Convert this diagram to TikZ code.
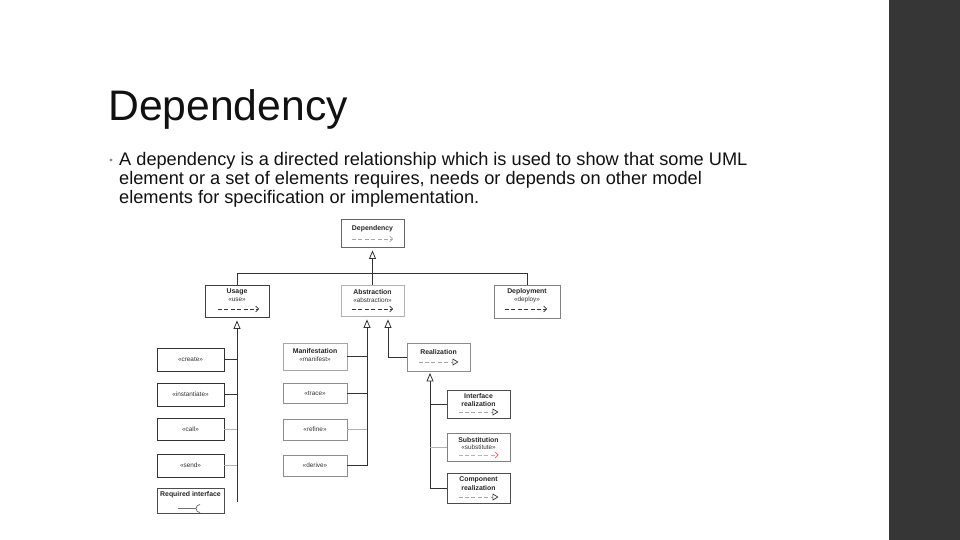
\documentclass[tikz,border=0pt]{standalone}
\usepackage{fontspec}
\setmainfont{Liberation Sans}
\usetikzlibrary{arrows.meta,calc}
\definecolor{barclr}{HTML}{363636}
\definecolor{txt}{HTML}{111111}
\begin{document}
\begin{tikzpicture}[x=1pt,y=-1pt,
  umlbox/.style={draw=#1, fill=white, line width=0.8pt, rectangle, inner sep=0pt},
  umlbox/.default={black!70},
  nm/.style={font=\fontsize{6.9}{7.5}\selectfont\bfseries, text=black!85, inner sep=0pt},
  st/.style={font=\fontsize{6.4}{7}\selectfont, text=black!80, inner sep=0pt},
  conn/.style={draw=black!80, line width=0.8pt},
  lconn/.style={draw=black!30, line width=0.8pt},
  gen/.style={conn, -{Triangle[open,length=8.5pt,width=7pt]}},
  darr/.style={draw=black!80, line width=0.6pt, dash pattern=on 4pt off 2.4pt, -{Straight Barb[length=3pt,width=6pt,line width=0.6pt]}},
  rarr/.style={draw=black!35, line width=0.6pt, dash pattern=on 4pt off 2.4pt, -{Triangle[open,length=6pt,width=7pt,line width=0.7pt,color=black!80]}},
  bodyline/.style={anchor=base west, inner sep=0pt, text=txt, font=\fontsize{18.2}{19.5}\selectfont}
]
\useasboundingbox (0,0) rectangle (960,540);
\fill[white] (0,0) rectangle (960,540);
\fill[barclr] (889,0) rectangle (960,540);

% title and text
\node[anchor=base west, inner sep=0pt, text=txt, font=\fontsize{42.7}{48}\selectfont] (title) at (108,121) {Dependency};
\node[circle, fill=black!45, inner sep=0pt, minimum size=3.4pt] (bul) at (111,160) {};
\node[bodyline] (body1) at (119,165) {A dependency is a directed relationship which is used to show that some UML};
\node[bodyline] (body2) at (119,184.5) {element or a set of elements requires, needs or depends on other model};
\node[bodyline] (body3) at (119,204) {elements for specification or implementation.};

% boxes
\node[umlbox=black!60, minimum width=63pt, minimum height=28pt] (dep) at (372.5,233) {};
\node[umlbox=black!75, minimum width=64pt, minimum height=32pt] (usage) at (237,301) {};
\node[umlbox=black!30, minimum width=63pt, minimum height=31pt] (abs) at (372.5,300.5) {};
\node[umlbox=black!50, minimum width=66pt, minimum height=33pt] (depl) at (527,301.5) {};

\node[umlbox=black!80, minimum width=67pt, minimum height=23pt] (create) at (190.5,359.5) {};
\node[umlbox=black!80, minimum width=67pt, minimum height=23pt] (inst) at (190.5,394.5) {};
\node[umlbox=black!80, minimum width=67pt, minimum height=22pt] (call) at (190.5,429) {};
\node[umlbox=black!80, minimum width=67pt, minimum height=23pt] (send) at (190.5,465.5) {};
\node[umlbox=black!70, minimum width=67pt, minimum height=25pt] (reqi) at (190.5,500.5) {};

\node[umlbox=black!35, minimum width=64pt, minimum height=27pt] (manif) at (315,356.5) {};
\node[umlbox=black!45, minimum width=64pt, minimum height=20pt] (trace) at (315,393) {};
\node[umlbox=black!45, minimum width=64pt, minimum height=21pt] (refine) at (315,429.5) {};
\node[umlbox=black!45, minimum width=64pt, minimum height=21pt] (derive) at (315,465.5) {};

\node[umlbox=black!45, minimum width=63pt, minimum height=28pt] (real) at (438.5,357) {};
\node[umlbox=black!70, minimum width=63pt, minimum height=28pt] (iface) at (478.5,404) {};
\node[umlbox=black!50, minimum width=63pt, minimum height=28pt] (subst) at (478.5,447) {};
\node[umlbox=black!70, minimum width=63pt, minimum height=30pt] (comp) at (478.5,488) {};

% texts in boxes
\node[nm] (depN) at ($(dep.center)+(0,-4)$) {Dependency};
\node[nm] (usageN) at ($(usage.center)+(0,-9)$) {Usage};
\node[st] (usageS) at ($(usage.center)+(0,-1)$) {«use»};
\node[nm] (absN) at ($(abs.center)+(0,-8.5)$) {Abstraction};
\node[st] (absS) at ($(abs.center)+(0,-0.5)$) {«abstraction»};
\node[nm] (deplN) at ($(depl.center)+(0,-9.5)$) {Deployment};
\node[st] (deplS) at ($(depl.center)+(0,-1.5)$) {«deploy»};

\node[st] (createS) at (create.center) {«create»};
\node[st] (instS) at (inst.center) {«instantiate»};
\node[st] (callS) at (call.center) {«call»};
\node[st] (sendS) at (send.center) {«send»};
\node[nm] (reqiN) at ($(reqi.center)+(0,-5.5)$) {Required interface};

\node[nm] (manifN) at ($(manif.center)+(0,-5.5)$) {Manifestation};
\node[st] (manifS) at ($(manif.center)+(0,2.5)$) {«manifest»};
\node[st] (traceS) at (trace.center) {«trace»};
\node[st] (refineS) at (refine.center) {«refine»};
\node[st] (deriveS) at (derive.center) {«derive»};

\node[nm] (realN) at ($(real.center)+(0,-5)$) {Realization};
\node[nm] (ifaceN1) at ($(iface.center)+(0,-8)$) {Interface};
\node[nm] (ifaceN2) at ($(iface.center)+(0,0)$) {realization};
\node[nm] (substN) at ($(subst.center)+(0,-7)$) {Substitution};
\node[st] (substS) at ($(subst.center)+(0,0)$) {«substitute»};
\node[nm] (compN1) at ($(comp.center)+(0,-8)$) {Component};
\node[nm] (compN2) at ($(comp.center)+(0,0)$) {realization};

% inner arrows (notation glyphs)
\draw[darr, draw=black!35] ($(dep.center)+(-20.5,6)$) -- ++(41,0);
\draw[darr] ($(usage.center)+(-19,8)$) -- ++(41,0);
\draw[darr] ($(abs.center)+(-20.5,8.5)$) -- ++(41,0);
\draw[darr] ($(depl.center)+(-22,7.5)$) -- ++(42,0);
\draw[rarr] ($(real.center)+(-20,5)$) -- ++(40,0);
\draw[rarr] ($(iface.center)+(-20,8)$) -- ++(40,0);
\draw[draw=black!30, line width=0.6pt, dash pattern=on 4pt off 2.4pt, -{Straight Barb[length=3pt,width=6pt,line width=0.7pt,color=red!65]}] ($(subst.center)+(-20,8)$) -- ++(40,0);
\draw[rarr] ($(comp.center)+(-20,9)$) -- ++(40,0);
% required interface socket
\draw[draw=black!55, line width=0.8pt] ($(reqi.center)+(-12.5,8)$) -- ++(18,0) coordinate (sockL);
\draw[draw=black!60, line width=0.7pt] ($(sockL)+(4,-4)$) arc[start angle=90, end angle=270, radius=4pt];

% top hierarchy
\coordinate (bar) at ($(dep.south)+(0,26)$);
\draw[gen, shorten >=3pt] (abs.north) -- (dep.south);
\draw[conn] (usage.north) |- (bar) -| (depl.north);

% usage children
\coordinate (uend) at ($(usage.south)+(0,185)$);
\draw[gen, shorten >=3pt] (uend) -- (usage.south);
\draw[conn] (create.east) -- (create.east -| uend);
\draw[conn] (inst.east) -- (inst.east -| uend);
\draw[lconn] (call.east) -- (call.east -| uend);
\draw[lconn] (send.east) -- (send.east -| uend);

% abstraction children
\coordinate (absL) at ($(abs.south)+(-5.5,0)$);
\coordinate (absR) at ($(abs.south)+(15.5,0)$);
\draw[gen, shorten >=3pt] (derive.east) -| (absL);
\draw[conn] (manif.east) -- (manif.east -| absL);
\draw[conn] (trace.east) -- (trace.east -| absL);
\draw[lconn] (refine.east) -- (refine.east -| absL);
\draw[gen, shorten >=3pt] (real.west) -| (absR);

% realization children
\coordinate (realL) at ($(real.south)+(-8.5,0)$);
\draw[gen, shorten >=1.5pt] (comp.west) -| (realL);
\draw[conn] (iface.west) -- (iface.west -| realL);
\draw[lconn] (subst.west) -- (subst.west -| realL);
\end{tikzpicture}
\end{document}
